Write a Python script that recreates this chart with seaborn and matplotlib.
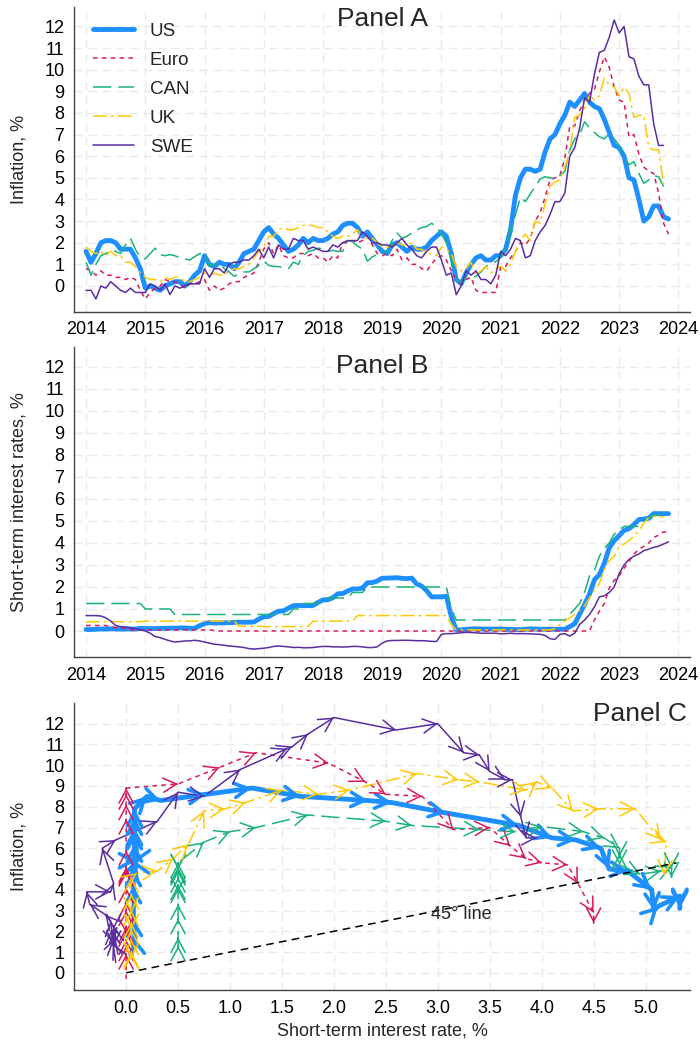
import numpy as np
import pandas as pd
import matplotlib
matplotlib.use("Agg")
import matplotlib.pyplot as plt
import seaborn as sns
from matplotlib.lines import Line2D
from matplotlib.ticker import FormatStrFormatter

# Monthly data, Jan 2014 - Nov 2023 (nan = not yet published)
nan = np.nan
countries = ["US", "Euro", "CAN", "UK", "SWE"]

# Inflation, %
us_infl = [1.6, 1.1, 1.5, 2.0, 2.1, 2.1, 2.0, 1.7, 1.7, 1.7, 1.3, 0.8,
           -0.1, 0.0, -0.1, -0.2, 0.0, 0.1, 0.2, 0.2, 0.0, 0.2, 0.5, 0.7,
           1.4, 1.0, 0.9, 1.1, 1.0, 1.0, 0.8, 1.1, 1.5, 1.6, 1.7, 2.1,
           2.5, 2.7, 2.4, 2.2, 1.9, 1.6, 1.7, 1.9, 2.2, 2.0, 2.2, 2.1,
           2.1, 2.2, 2.4, 2.5, 2.8, 2.9, 2.9, 2.7, 2.3, 2.5, 2.2, 1.9,
           1.6, 1.5, 1.9, 2.0, 1.8, 1.6, 1.8, 1.7, 1.7, 1.8, 2.1, 2.3,
           2.5, 2.3, 1.5, 0.3, 0.1, 0.6, 1.0, 1.3, 1.4, 1.2, 1.2, 1.4,
           1.4, 1.7, 2.6, 4.2, 5.0, 5.4, 5.4, 5.3, 5.4, 6.2, 6.8, 7.0,
           7.5, 7.9, 8.5, 8.3, 8.6, 8.9, 8.5, 8.3, 8.2, 7.7, 7.1, 6.5,
           6.4, 6.0, 5.0, 4.9, 4.0, 3.0, 3.2, 3.7, 3.7, 3.2, 3.1]
euro_infl = [0.8, 0.7, 0.5, 0.7, 0.5, 0.5, 0.4, 0.4, 0.3, 0.4, 0.3, -0.2,
             -0.6, -0.3, -0.1, 0.0, 0.3, 0.2, 0.2, 0.1, -0.1, 0.1, 0.1, 0.2,
             0.3, -0.2, 0.0, -0.2, -0.1, 0.1, 0.2, 0.2, 0.4, 0.5, 0.6, 1.1,
             1.7, 2.0, 1.5, 1.9, 1.4, 1.3, 1.3, 1.5, 1.5, 1.4, 1.5, 1.3,
             1.3, 1.1, 1.4, 1.3, 2.0, 2.0, 2.1, 2.0, 2.1, 2.3, 1.9, 1.5,
             1.4, 1.5, 1.4, 1.7, 1.2, 1.3, 1.0, 1.0, 0.8, 0.7, 1.0, 1.3,
             1.4, 1.2, 0.7, 0.3, 0.1, 0.3, 0.4, -0.2, -0.3, -0.3, -0.3, -0.3,
             0.9, 0.9, 1.3, 1.6, 2.0, 1.9, 2.2, 3.0, 3.4, 4.1, 4.9, 5.0,
             5.1, 5.9, 7.4, 7.4, 8.1, 8.6, 8.9, 9.1, 9.9, 10.6, 10.1, 9.2,
             8.6, 8.5, 6.9, 7.0, 6.1, 5.5, 5.3, 5.2, 4.3, 2.9, 2.4]
can_infl = [1.1, 0.5, 1.0, 1.4, 1.5, 1.65, 1.6, 1.5, 1.9, 2.2, 1.7, 1.3,
            1.25, 1.5, 1.75, 1.45, 1.4, 1.45, 1.4, 1.3, 1.25, 1.2, 1.35, 1.5,
            1.5, 0.9, 1.0, 1.05, 0.8, 0.65, 0.45, 0.55, 0.65, 0.65, 0.8, 0.95,
            1.15, 0.95, 0.9, 0.9, 0.85, 0.8, 1.1, 1.0, 1.4, 1.6, 1.65, 1.75,
            1.7, 1.6, 1.65, 1.6, 1.6, 2.1, 2.05, 1.85, 1.7, 1.15, 1.35, 1.45,
            1.5, 1.65, 2.1, 2.45, 2.2, 2.3, 2.45, 2.6, 2.7, 2.75, 2.9, 2.75,
            2.4, 2.0, 1.2, 0.3, 0.15, 0.43, 0.36, 0.45, 0.65, 0.9, 1.05, 1.13,
            1.3, 1.7, 2.6, 3.3, 4.1, 3.9, 4.25, 4.6, 4.95, 5.05, 5.0, 4.98,
            5.1, 5.3, 6.3, 6.8, 7.0, 7.6, 7.3, 7.1, 6.9, 6.8, 7.05, 6.8,
            6.5, 6.0, 5.6, 5.75, 5.2, 4.75, 4.9, 5.1, 5.05, 4.6, nan]
uk_infl = [1.8, 1.6, 1.5, 1.6, 1.4, 1.6, 1.4, 1.4, 1.1, 1.1, 0.9, 0.6,
           0.4, 0.3, 0.3, 0.2, 0.4, 0.3, 0.4, 0.4, 0.2, 0.2, 0.3, 0.4,
           0.6, 0.5, 0.6, 0.5, 0.5, 0.7, 0.8, 0.8, 0.9, 1.0, 1.3, 1.6,
           1.8, 2.3, 2.3, 2.6, 2.7, 2.6, 2.6, 2.7, 2.8, 2.8, 2.8, 2.7,
           2.7, 2.5, 2.3, 2.2, 2.3, 2.3, 2.4, 2.6, 2.2, 2.2, 2.2, 2.0,
           1.8, 1.8, 1.8, 2.0, 1.9, 1.9, 2.0, 1.7, 1.7, 1.5, 1.5, 1.4,
           1.8, 1.7, 1.5, 0.9, 0.7, 0.8, 1.1, 0.5, 0.7, 0.9, 0.6, 0.8,
           0.9, 0.7, 1.0, 1.6, 2.1, 2.4, 2.1, 3.0, 2.9, 3.8, 4.6, 4.8,
           4.9, 5.5, 6.2, 7.8, 7.9, 8.2, 8.8, 8.6, 8.8, 9.6, 9.3, 9.2,
           8.8, 9.2, 8.9, 7.8, 7.9, 7.9, 6.4, 6.3, 6.3, 4.7, nan]
swe_infl = [-0.2, -0.2, -0.6, 0.0, -0.1, 0.2, 0.0, -0.2, -0.3, -0.1, -0.3, -0.3,
            -0.3, 0.1, 0.0, -0.2, 0.1, -0.4, 0.0, -0.1, 0.0, 0.1, 0.1, 0.1,
            0.8, 0.4, 0.8, 0.8, 0.6, 1.0, 1.1, 1.1, 1.2, 1.2, 1.4, 1.7,
            1.3, 1.8, 1.3, 1.9, 1.7, 1.7, 2.2, 2.1, 2.1, 1.7, 1.8, 1.7,
            1.6, 1.6, 1.9, 1.8, 2.0, 2.1, 2.1, 2.1, 2.5, 2.3, 2.0, 2.0,
            1.9, 1.9, 1.8, 2.0, 2.2, 1.9, 1.7, 1.4, 1.3, 1.6, 1.8, 1.8,
            1.2, 0.5, 0.6, -0.4, 0.0, 0.7, 0.5, 0.7, 0.3, 0.3, 0.1, 0.5,
            1.6, 1.4, 1.7, 2.2, 2.1, 1.3, 1.4, 2.1, 2.5, 2.8, 3.3, 3.9,
            3.9, 4.3, 6.0, 6.4, 7.3, 8.7, 8.5, 9.8, 10.8, 10.9, 11.5, 12.3,
            11.7, 12.0, 10.6, 10.5, 9.7, 9.3, 9.3, 7.5, 6.5, 6.5, nan]

# Short-term interest rates, %
us_rate = [0.07, 0.07, 0.08, 0.09, 0.09, 0.10, 0.09, 0.09, 0.09, 0.09, 0.09, 0.12,
           0.11, 0.11, 0.11, 0.12, 0.12, 0.13, 0.13, 0.14, 0.14, 0.12, 0.12, 0.24,
           0.34, 0.38, 0.36, 0.37, 0.37, 0.38, 0.39, 0.40, 0.40, 0.40, 0.41, 0.54,
           0.65, 0.66, 0.79, 0.90, 0.91, 1.04, 1.15, 1.16, 1.15, 1.15, 1.16, 1.30,
           1.41, 1.42, 1.51, 1.69, 1.70, 1.82, 1.91, 1.91, 1.95, 2.19, 2.20, 2.27,
           2.40, 2.40, 2.41, 2.42, 2.39, 2.38, 2.40, 2.13, 2.04, 1.83, 1.55, 1.55,
           1.55, 1.58, 0.65, 0.05, 0.05, 0.08, 0.09, 0.10, 0.09, 0.09, 0.09, 0.09,
           0.09, 0.08, 0.07, 0.07, 0.06, 0.08, 0.10, 0.09, 0.08, 0.08, 0.08, 0.08,
           0.08, 0.08, 0.20, 0.33, 0.77, 1.21, 1.68, 2.33, 2.56, 3.08, 3.78, 4.10,
           4.33, 4.57, 4.65, 4.83, 5.06, 5.08, 5.12, 5.33, 5.33, 5.33, 5.33]
euro_rate = ([0.25, 0.25, 0.25, 0.25, 0.25, 0.2, 0.15, 0.15, 0.1, 0.05, 0.05, 0.05]
             + [0.05] * 12
             + [0.05, 0.05, 0.02] + [0.0] * 9
             + [0.0] * 60
             + [0.0] * 7 + [0.5, 0.9, 1.25, 1.95, 2.3]
             + [2.5, 2.85, 3.15, 3.5, 3.7, 3.85, 4.0, 4.25, 4.35, 4.5, 4.5])
can_rate = ([1.25] * 12
            + [1.0] * 6 + [0.75] * 6
            + [0.75] * 12
            + [0.75] * 6 + [1.0, 1.0, 1.25, 1.25, 1.25, 1.25]
            + [1.5] * 6 + [1.75] * 3 + [2.0] * 3
            + [2.0] * 12
            + [2.0, 2.0, 1.0] + [0.5] * 9
            + [0.5] * 12
            + [0.5, 0.5, 0.75, 1.0, 1.25, 1.75, 2.5, 2.75, 3.4, 3.75, 4.0, 4.4]
            + [4.6, 4.75, 4.75, 4.75, 4.75, 4.95, 5.15, 5.25, 5.25, 5.25, nan])
uk_rate = ([0.42] * 12
           + [0.45] * 12
           + [0.45] * 7 + [0.22] * 5
           + [0.2] * 10 + [0.45] * 2
           + [0.45] * 7 + [0.7] * 5
           + [0.7] * 12
           + [0.7, 0.7, 0.3] + [0.05] * 9
           + [0.05] * 11 + [0.1]
           + [0.3, 0.45, 0.6, 0.75, 0.95, 1.15, 1.5, 1.85, 2.15, 2.8, 3.2, 3.4]
           + [3.85, 3.95, 4.1, 4.3, 4.55, 4.9, 5.15, 5.2, 5.2, 5.18, nan])
swe_rate = [0.7, 0.7, 0.7, 0.68, 0.6, 0.45, 0.25, 0.2, 0.18, 0.15, 0.1, 0.05,
            0.0, -0.1, -0.25, -0.3, -0.38, -0.45, -0.5, -0.48, -0.45, -0.45, -0.42, -0.45,
            -0.5, -0.55, -0.6, -0.62, -0.65, -0.68, -0.7, -0.72, -0.75, -0.8, -0.82, -0.8,
            -0.78, -0.75, -0.7, -0.68, -0.7, -0.72, -0.75, -0.74, -0.76, -0.76, -0.75, -0.72,
            -0.7, -0.7, -0.72, -0.72, -0.73, -0.72, -0.7, -0.7, -0.72, -0.75, -0.75, -0.72,
            -0.55, -0.45, -0.43, -0.43, -0.42, -0.42, -0.43, -0.44, -0.44, -0.45, -0.47, -0.48,
            -0.15, -0.12, -0.12, -0.1, -0.08, -0.06, -0.07, -0.08, -0.1, -0.1, -0.1, -0.1,
            -0.13, -0.12, -0.1, -0.12, -0.12, -0.12, -0.13, -0.14, -0.15, -0.2, -0.35, -0.38,
            -0.15, -0.12, -0.23, -0.1, 0.3, 0.5, 0.75, 1.1, 1.55, 1.6, 1.75, 2.0,
            2.6, 3.0, 3.25, 3.4, 3.5, 3.65, 3.72, 3.8, 3.85, 3.95, 4.05]

year_ticks = list(range(2014, 2025))
rate_ticks = [0.0, 0.5, 1.0, 1.5, 2.0, 2.5, 3.0, 3.5, 4.0, 4.5, 5.0]
infl_ticks = list(range(0, 13))
line45 = [0.0, 5.3]
panel_c_start = 2020 + 11 / 12  # Dec 2020 onwards

n = len(us_infl)
t = 2014 + np.arange(n) / 12
df = pd.DataFrame({
    "t": np.tile(t, 5),
    "country": np.repeat(countries, n),
    "infl": np.concatenate([us_infl, euro_infl, can_infl, uk_infl, swe_infl]),
    "rate": np.concatenate([us_rate, euro_rate, can_rate, uk_rate, swe_rate]),
})

colors = {"US": "#1E8FFF", "Euro": "#D81A5C", "CAN": "#19B37A",
          "UK": "#FFC800", "SWE": "#5A2DA0"}
dashes = {"US": "", "Euro": (3.0, 2.8), "CAN": (12, 4.5),
          "UK": (9, 2.7, 1.8, 2.7), "SWE": ""}
widths = {"US": 3.5, "Euro": 1.1, "CAN": 1.1, "UK": 1.1, "SWE": 1.1}

sns.set_style("white")
plt.rcParams["font.family"] = ["Liberation Sans", "DejaVu Sans"]

fig = plt.figure(figsize=(7, 10.45), dpi=100)
axA = fig.add_axes([0.106, 0.7017, 0.880, 0.2916])
axB = fig.add_axes([0.106, 0.3713, 0.880, 0.2967])
axC = fig.add_axes([0.106, 0.0526, 0.880, 0.2747])


def style_axes(ax):
    for s in ["top", "right"]:
        ax.spines[s].set_visible(False)
    for s in ["left", "bottom"]:
        ax.spines[s].set_color("#444444")
        ax.spines[s].set_linewidth(1.0)
    ax.grid(True, color="#EAEAEA", linestyle=(0, (6, 4)), linewidth=1.0)
    ax.set_axisbelow(True)
    ax.tick_params(direction="out", length=5, width=1, color="#444444",
                   labelsize=13, labelcolor="black", pad=2)
    ax.set_yticks(infl_ticks)


def draw_lines(ax, data, x, y, sort=True):
    sns.lineplot(data=data, x=x, y=y, hue="country", style="country",
                 size="country", hue_order=countries, style_order=countries,
                 size_order=countries, palette=colors, dashes=dashes,
                 sizes=widths, estimator=None, sort=sort, legend=False, ax=ax)


# Panel A: inflation over time
draw_lines(axA, df, "t", "infl")
style_axes(axA)
axA.set_xlim(2013.8, 2024.2)
axA.set_ylim(-1.19, 12.9)
axA.set_xticks(year_ticks)
axA.set_xlabel("")
axA.set_ylabel("Inflation, %", fontsize=13, labelpad=12)
axA.text(0.5, 0.962, "Panel A", transform=axA.transAxes, ha="center",
         va="center", fontsize=19)

handles = [Line2D([], [], color=colors[c], lw=widths[c],
                  dashes=dashes[c] if dashes[c] else (None, None))
           for c in countries]
axA.legend(handles, countries, loc="upper left", bbox_to_anchor=(0.018, 0.973),
           frameon=False, fontsize=13.5, handlelength=2.2, handletextpad=0.85,
           labelspacing=0.63, borderaxespad=0)

# Panel B: short-term interest rates over time
draw_lines(axB, df, "t", "rate")
style_axes(axB)
axB.set_xlim(2013.8, 2024.2)
axB.set_ylim(-1.18, 12.9)
axB.set_xticks(year_ticks)
axB.set_xlabel("")
axB.set_ylabel("Short-term interest rates, %", fontsize=13, labelpad=12)
axB.text(0.5, 0.937, "Panel B", transform=axB.transAxes, ha="center",
         va="center", fontsize=19)

# Panel C: inflation vs rate path with arrows
dfc = df[df["t"] >= panel_c_start - 1e-6].dropna()
draw_lines(axC, dfc, "rate", "infl", sort=False)
for c in countries:
    sub = dfc[dfc["country"] == c]
    xs, ys = sub["rate"].to_numpy(), sub["infl"].to_numpy()
    for i in range(1, len(xs)):
        dx, dy = xs[i] - xs[i - 1], ys[i] - ys[i - 1]
        if dx == 0 and dy == 0:
            continue
        axC.annotate("", xy=(xs[i], ys[i]),
                     xytext=(xs[i] - 0.02 * dx, ys[i] - 0.02 * dy),
                     arrowprops=dict(arrowstyle="->,head_length=0.6,head_width=0.32",
                                     color=colors[c],
                                     lw=2.6 if c == "US" else 1.1,
                                     shrinkA=0, shrinkB=0, mutation_scale=16))
axC.plot(line45, line45, color="black", lw=1.1, dashes=(5, 3.5), zorder=5)
axC.text(3.23, 2.8, "45° line", ha="center", va="center", fontsize=13, zorder=6)
style_axes(axC)
axC.set_xlim(-0.5, 5.43)
axC.set_ylim(-0.83, 13.0)
axC.set_xticks(rate_ticks)
axC.xaxis.set_major_formatter(FormatStrFormatter("%.1f"))
axC.set_xlabel("Short-term interest rate, %", fontsize=13, labelpad=4)
axC.set_ylabel("Inflation, %", fontsize=13, labelpad=12)
axC.text(0.994, 0.962, "Panel C", transform=axC.transAxes, ha="right",
         va="center", fontsize=19)

fig.savefig("out.png", dpi=100)
